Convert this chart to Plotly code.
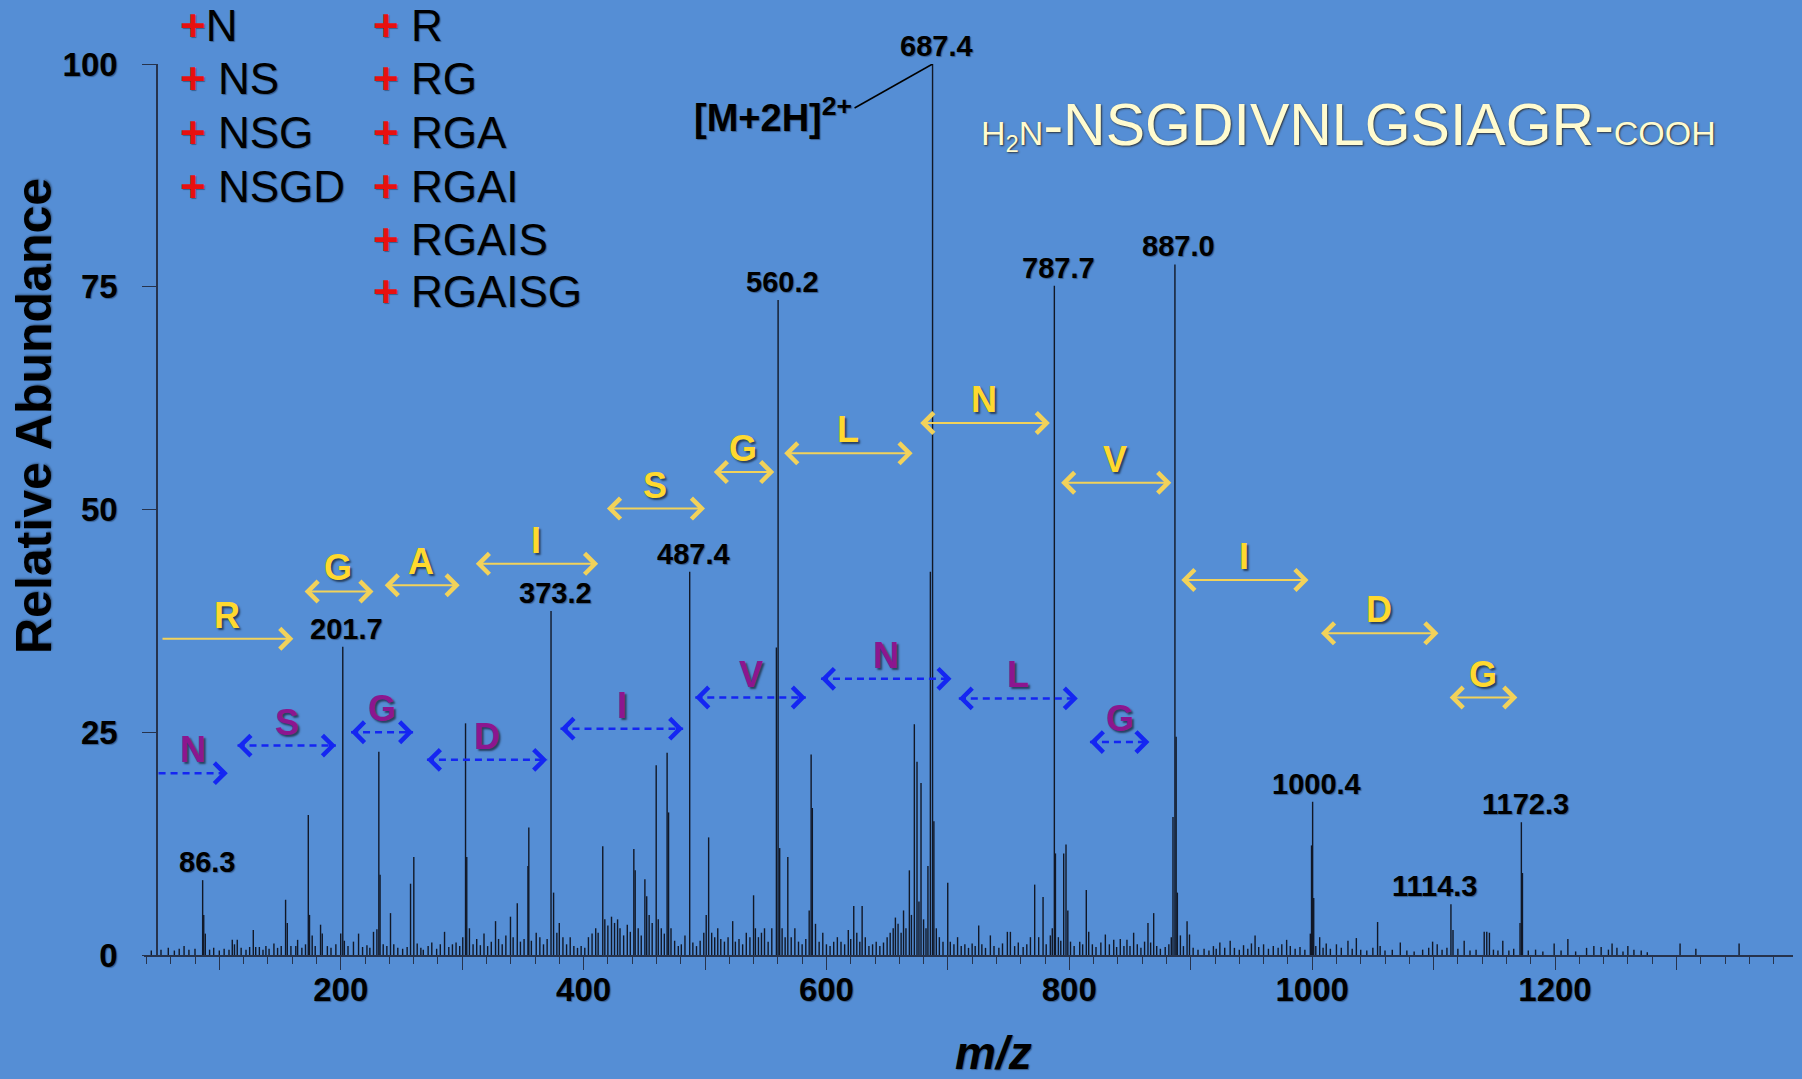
import plotly.graph_objects as go

# ---------------- data ----------------
mz_values = [
    44, 52, 58, 63, 67, 71, 75, 80, 86.3, 87.2, 88.5, 92, 95.4, 100, 104, 108, 110.7, 112.5, 114.8, 118,
    122, 125, 128, 130, 133, 136, 138.4, 141, 145, 148, 151, 154.6, 156, 159, 163, 164.5, 168, 171, 173.3, 174.3,
    176.5, 179, 183.4, 184.8, 189, 192, 196, 200, 201.7, 203, 206, 210.5, 214.7, 218, 221.6, 224, 227, 229.8, 231.4, 232.4,
    235, 238, 241, 243.7, 247, 251, 254.7, 257.5, 260.2, 263, 266, 268, 272, 275, 279, 282, 285.5, 289, 292, 295,
    298, 300.5, 302.8, 303.8, 306, 309, 312, 315, 318, 321, 324, 327.5, 330, 333, 336, 339.8, 342, 345.4, 348, 351,
    354.2, 354.9, 357, 361, 364, 367, 370, 373.2, 375.3, 378, 380, 383, 386, 389, 392, 395, 398, 401, 404, 407,
    410, 412, 415.8, 417.5, 420, 423, 425.5, 428, 430, 433, 436, 438.5, 441.4, 442.5, 445, 447.5, 450.5, 452, 454, 456.5,
    459.8, 461.5, 464, 466.5, 468.8, 470, 472, 475, 478, 480.5, 483.5, 487.4, 490, 493, 496, 499, 501, 503, 505.5, 508,
    510.5, 513, 516, 519, 522.8, 525, 528, 531, 534, 537, 540, 541.5, 544, 546.5, 549, 552, 555, 558.8, 560.2, 561.5,
    563.5, 566, 568.2, 571, 574, 577, 580, 583, 585.8, 587.4, 588.4, 591, 594, 597, 600, 603, 606, 609, 612, 615,
    618, 620, 622.5, 625, 627.5, 629.4, 632, 635, 638, 641, 644, 647, 650, 652.5, 655, 656.8, 659, 661.5, 663.5, 665.5,
    668.3, 670, 672.4, 674.6, 676.2, 677.9, 680, 682, 683.6, 685.6, 687.4, 688.5, 690.5, 693, 696, 699.9, 702, 705, 708, 711,
    714, 717, 720, 722.5, 725.4, 728, 731, 735, 738, 742, 745, 749, 751.5, 755, 758, 762, 765, 768, 771.5, 774.8,
    778.4, 781, 784.4, 786, 787.7, 788.6, 791, 793, 795.4, 797.3, 798.8, 801, 804, 808.6, 811, 814, 816, 819, 822, 826,
    829.7, 833, 836.6, 839, 842, 845, 847.5, 850, 853, 856, 859, 862, 864.8, 867, 869.5, 872, 875, 879, 882, 884,
    885.4, 887.0, 888.0, 889, 891.5, 894, 897, 899, 902, 906, 911, 915, 918.7, 921, 924, 928, 932.5, 936, 940, 943.5,
    947, 950, 953, 956, 960, 964, 968, 972, 975, 979, 982, 986, 990, 994, 998.5, 999.5, 1000.4, 1001.3, 1003, 1006.2,
    1009, 1011.6, 1015, 1020, 1024, 1029.5, 1033, 1036.4, 1040, 1045, 1050, 1053.9, 1056, 1060, 1066, 1072.6, 1078, 1084, 1091, 1096,
    1099.2, 1103, 1107, 1111, 1114.3, 1116, 1120, 1125.2, 1130, 1135, 1141.7, 1143.8, 1146, 1149.3, 1153, 1157, 1162, 1166, 1171.2, 1172.3,
    1173.2, 1178, 1184, 1190, 1199.3, 1205, 1210.6, 1217, 1226, 1232, 1238, 1244, 1247, 1251, 1256, 1260, 1265, 1271, 1276, 1303,
    1316, 1351.6,
]
abundance = [
    0.5, 0.6, 0.8, 0.5, 0.7, 1.0, 0.6, 0.7, 8.4, 4.5, 2.4, 0.6, 0.8, 0.5, 0.7, 0.6, 1.7, 1.2, 1.7, 0.8,
    0.6, 0.9, 2.8, 0.9, 0.9, 0.6, 1.0, 0.7, 1.3, 0.8, 1.0, 6.2, 3.6, 1.0, 1.0, 1.7, 0.8, 1.2, 15.7, 4.5,
    2.2, 1.0, 3.4, 2.4, 1.0, 0.8, 1.2, 2.4, 34.6, 1.6, 1.0, 1.5, 2.4, 0.9, 1.1, 0.8, 2.6, 2.9, 22.8, 9.0,
    1.2, 1.0, 4.7, 1.2, 0.8, 0.7, 0.9, 8.0, 11.0, 1.3, 0.8, 0.6, 1.0, 1.4, 0.7, 1.2, 2.6, 0.9, 1.2, 1.4,
    1.0, 2.0, 26.0, 11.0, 3.0, 1.2, 1.8, 1.1, 2.4, 1.0, 1.5, 3.8, 1.8, 1.2, 2.2, 4.3, 2.0, 5.8, 1.5, 1.8,
    10.0, 14.3, 1.6, 2.5, 2.0, 1.2, 1.8, 38.6, 7.0, 2.5, 3.6, 2.0, 1.2, 2.0, 1.0, 0.8, 1.0, 0.8, 2.0, 2.4,
    3.0, 2.5, 12.2, 4.0, 3.3, 4.3, 3.6, 4.0, 3.0, 2.2, 3.4, 2.6, 11.9, 9.5, 3.0, 2.2, 8.5, 6.6, 4.5, 3.6,
    21.3, 4.0, 3.0, 2.4, 22.7, 16.0, 3.0, 1.6, 1.0, 1.2, 2.2, 43.0, 1.4, 1.0, 1.6, 2.5, 4.5, 13.2, 2.5, 2.0,
    3.0, 1.8, 1.5, 2.0, 3.8, 1.5, 1.8, 1.2, 2.5, 2.0, 6.7, 3.0, 2.0, 2.5, 3.0, 1.5, 3.0, 34.5, 73.5, 12.0,
    3.0, 2.0, 11.0, 2.0, 3.0, 1.5, 1.2, 1.8, 5.0, 22.5, 16.5, 3.5, 1.5, 2.5, 1.2, 1.0, 1.5, 2.0, 1.5, 1.2,
    2.8, 1.8, 5.5, 2.5, 1.5, 5.5, 2.0, 1.0, 1.2, 1.5, 1.0, 1.4, 2.0, 2.5, 3.0, 4.2, 3.5, 2.5, 5.0, 3.0,
    9.5, 4.5, 25.9, 21.7, 6.0, 19.3, 4.0, 3.0, 10.0, 43.0, 100.0, 15.0, 3.0, 2.0, 1.5, 8.1, 1.5, 1.2, 2.0, 1.0,
    1.2, 0.8, 1.3, 1.0, 3.3, 1.2, 0.8, 2.2, 1.0, 0.8, 1.3, 2.6, 2.6, 1.0, 1.4, 0.9, 1.2, 2.0, 7.9, 2.0,
    6.5, 1.2, 2.2, 3.0, 75.1, 11.4, 2.0, 1.6, 11.4, 12.4, 5.0, 1.5, 1.0, 1.5, 1.2, 7.3, 2.6, 1.2, 0.9, 1.4,
    2.3, 1.2, 1.7, 0.9, 1.8, 1.0, 1.7, 1.0, 2.5, 1.2, 0.8, 1.5, 3.6, 1.4, 4.7, 1.0, 0.7, 0.9, 1.2, 2.0,
    15.5, 77.5, 24.5, 7.0, 2.2, 1.0, 3.8, 2.3, 0.8, 0.6, 0.7, 0.5, 1.0, 0.7, 1.4, 0.8, 1.6, 0.8, 0.6, 1.1,
    0.7, 1.3, 2.2, 0.9, 1.2, 0.7, 1.0, 0.8, 1.2, 1.7, 1.0, 0.7, 0.9, 0.6, 2.4, 12.3, 17.2, 6.4, 1.0, 2.0,
    0.8, 1.3, 0.7, 1.2, 0.8, 1.6, 0.7, 1.9, 0.6, 0.5, 0.8, 3.7, 1.0, 0.5, 0.6, 1.4, 0.5, 0.4, 0.6, 0.8,
    1.5, 1.2, 0.6, 0.8, 5.7, 2.8, 0.7, 1.6, 0.5, 0.6, 2.6, 2.6, 2.5, 0.6, 0.5, 1.6, 0.5, 0.7, 3.6, 14.9,
    9.2, 0.5, 0.6, 0.4, 1.3, 0.5, 1.8, 0.4, 0.8, 1.0, 0.9, 0.6, 1.3, 0.8, 0.4, 1.0, 0.6, 0.5, 0.3, 1.3,
    0.7, 1.3,
]

# labelled peaks
labeled_mz = [86.3, 201.7, 373.2, 487.4, 560.2, 687.4, 787.7, 887.0, 1000.4, 1114.3, 1172.3]
labeled_abundance = [8.4, 34.6, 38.6, 43.0, 73.5, 100.0, 75.1, 77.5, 17.2, 5.7, 14.9]

# precursor ion
precursor_mz = 687.4
precursor_abundance = 100.0
precursor_label = "[M+2H]<sup>2+</sup>"

# y-ion ladder (yellow, solid arrows)
y_ion_residues = ["R", "G", "A", "I", "S", "G", "L", "N", "V", "I", "D", "G"]
y_ion_from = [52, 169, 235, 310, 418, 506, 564, 676, 792, 891, 1006, 1112]
y_ion_to = [161, 227, 298, 412, 500, 557, 671, 784, 884, 997, 1104, 1169]
y_ion_level = [35.5, 40.8, 41.5, 43.9, 50.1, 54.2, 56.3, 59.7, 53.0, 42.1, 36.1, 28.9]

# b-ion ladder (blue, dashed arrows)
b_ion_residues = ["N", "S", "G", "D", "I", "V", "N", "L", "G"]
b_ion_from = [50, 115, 208.5, 271, 381, 492, 595.5, 709, 817]
b_ion_to = [107, 196, 259.6, 370, 482, 583, 703, 807, 866]
b_ion_level = [20.4, 23.5, 25.0, 21.9, 25.4, 28.9, 31.0, 28.8, 23.9]

n_term_fragments = ["N", "NS", "NSG", "NSGD"]
c_term_fragments = ["R", "RG", "RGA", "RGAI", "RGAIS", "RGAISG"]

x_tick_values = [100, 200, 300, 400, 500, 600, 700, 800, 900, 1000, 1100, 1200, 1300]
x_tick_labels = ["", "200", "", "400", "", "600", "", "800", "", "1000", "", "1200", ""]
y_tick_values = [0, 25, 50, 75, 100]
y_tick_labels = ["0", "25", "50", "75", "100"]

# ---------------- geometry & style ----------------
W, H = 1802, 1079
ML, MR, MT, MB = 144, 9, 64, 124
PW, PH = W - ML - MR, H - MT - MB
BG = "#558ED5"
INK = "#111827"
AXIS = "#26334d"
YEL_ARROW = "#F2D25A"
YEL_TEXT = "#FFD92E"
BLUE = "#1426F2"
PURPLE = "#8C168F"
FONT = "Liberation Sans, Arial, sans-serif"
SHADOW = "2px 2px 2px rgba(0,0,0,0.55)"
TSHADOW = "1px 1px 1px rgba(0,0,0,0.35)"


def fx(X):
    return (X - ML) / PW


def fy(Y):
    return (H - MB - Y) / PH


# stick spectrum
xs, ys = [], []
for m, a in zip(mz_values, abundance):
    xs += [m, m, None]
    ys += [0, a, None]

fig = go.Figure()
fig.add_trace(go.Scatter(x=xs, y=ys, mode="lines",
                         line=dict(color=INK, width=1.4),
                         hoverinfo="skip", showlegend=False, cliponaxis=False))

ann = []
shapes = []

# peak labels
label_xshift = {1114.3: -16}
for m, a in zip(labeled_mz, labeled_abundance):
    ann.append(dict(x=m, y=a, xref="x", yref="y", text=f"{m:.1f}", showarrow=False,
                    xanchor="center", yanchor="bottom", yshift=0, xshift=label_xshift.get(m, 4),
                    font=dict(family=FONT, size=29, color="black", weight="bold", shadow=TSHADOW)))

# [M+2H]2+ label with leader line to the precursor peak
ann.append(dict(x=precursor_mz, y=precursor_abundance, xref="x", yref="y", text=precursor_label,
                showarrow=False, xshift=-160, yshift=-51,
                font=dict(family=FONT, size=38, color="black", weight="bold", shadow=TSHADOW)))
shapes.append(dict(type="line", xref="x", yref="y",
                   xsizemode="pixel", xanchor=precursor_mz, x0=-78, x1=0,
                   ysizemode="pixel", yanchor=precursor_abundance, y0=-44, y1=0,
                   line=dict(color="black", width=1.6)))

# y-ion ladder
for i, (r, a0, a1, lv) in enumerate(zip(y_ion_residues, y_ion_from, y_ion_to, y_ion_level)):
    ann.append(dict(x=a1, y=lv, ax=a0, ay=lv, xref="x", yref="y", axref="x", ayref="y",
                    text="", showarrow=True, arrowcolor=YEL_ARROW, arrowwidth=2,
                    arrowhead=4, arrowsize=2.0, startarrowhead=4, startarrowsize=2.0,
                    arrowside="end" if i == 0 else "end+start"))
    ann.append(dict(x=(a0 + a1) / 2, y=lv, xref="x", yref="y", text=r, showarrow=False,
                    yanchor="bottom", yshift=1,
                    font=dict(family=FONT, size=36, color=YEL_TEXT, weight="bold", shadow=SHADOW)))

# b-ion ladder
for i, (r, a0, a1, lv) in enumerate(zip(b_ion_residues, b_ion_from, b_ion_to, b_ion_level)):
    shapes.append(dict(type="line", xref="x", yref="y", x0=a0, x1=a1, y0=lv, y1=lv,
                       line=dict(color=BLUE, width=2.5, dash="7px,5px")))
    ann.append(dict(x=a1, y=lv, xref="x", yref="y", ax=-8, ay=0, text="", showarrow=True,
                    arrowcolor=BLUE, arrowwidth=2.2, arrowhead=4, arrowsize=1.8))
    if i > 0:
        ann.append(dict(x=a0, y=lv, xref="x", yref="y", ax=8, ay=0, text="", showarrow=True,
                        arrowcolor=BLUE, arrowwidth=2.2, arrowhead=4, arrowsize=1.8))
    ann.append(dict(x=(a0 + a1) / 2, y=lv, xref="x", yref="y", text=r, showarrow=False,
                    yanchor="bottom", yshift=1,
                    font=dict(family=FONT, size=36, color=PURPLE, weight="bold", shadow=SHADOW)))

# fragment lists (top-left)
plus = "<span style='color:#E8100F'><b>+</b></span>"
row_y = [26, 78, 132, 186, 239, 292]
for k, frag in enumerate(n_term_fragments):
    sep = "" if k == 0 else " "
    ann.append(dict(x=fx(178), y=fy(row_y[k]), xref="paper", yref="paper", text=plus + sep + frag,
                    showarrow=False, xanchor="left", yanchor="middle",
                    font=dict(family=FONT, size=44, color="black", shadow=TSHADOW)))
for k, frag in enumerate(c_term_fragments):
    ann.append(dict(x=fx(371), y=fy(row_y[k]), xref="paper", yref="paper", text=plus + " " + frag,
                    showarrow=False, xanchor="left", yanchor="middle",
                    font=dict(family=FONT, size=44, color="black", shadow=TSHADOW)))

# peptide sequence
ann.append(dict(x=fx(979), y=fy(125), xref="paper", yref="paper", showarrow=False,
                xanchor="left", yanchor="middle",
                text="<span style='font-size:34px'>H<sub>2</sub>N</span>-NSGDIVNLGSIAGR-"
                     "<span style='font-size:34px'>COOH</span>",
                font=dict(family=FONT, size=59, color="#FFFBCF", shadow="1px 1px 2px rgba(40,40,40,0.9)")))

# axis titles
ann.append(dict(x=fx(34), y=fy(416), xref="paper", yref="paper", text="Relative Abundance",
                textangle=-90, showarrow=False, xanchor="center", yanchor="middle",
                font=dict(family=FONT, size=50, color="black", weight="bold",
                          shadow="1px 1px 2px rgba(0,0,0,0.4)")))
ann.append(dict(x=fx(994), y=fy(1053), xref="paper", yref="paper", text="m/z",
                showarrow=False, xanchor="center", yanchor="middle",
                font=dict(family=FONT, size=46, color="black", weight="bold", style="italic",
                          shadow=TSHADOW)))

fig.update_layout(
    width=W, height=H,
    margin=dict(l=ML, r=MR, t=MT, b=MB, pad=0),
    paper_bgcolor=BG, plot_bgcolor=BG,
    showlegend=False, hovermode=False,
    annotations=ann, shapes=shapes,
    xaxis=dict(range=[38, 1396], showgrid=False, zeroline=False,
               showline=True, linecolor=AXIS, linewidth=1.6,
               tickmode="array", tickvals=x_tick_values, ticktext=x_tick_labels,
               ticks="outside", ticklen=13, tickwidth=1.4, tickcolor=AXIS,
               ticklabelstandoff=-8,
               tickfont=dict(family=FONT, size=33, color="black", weight="bold", shadow=TSHADOW),
               minor=dict(dtick=20, tick0=0, ticks="outside", ticklen=7, tickwidth=1.2,
                          tickcolor=AXIS, showgrid=False)),
    yaxis=dict(range=[0, 100], showgrid=False, zeroline=False,
               anchor="free", position=(157 - ML) / PW,
               showline=True, linecolor=AXIS, linewidth=1.6,
               tickmode="array", tickvals=y_tick_values, ticktext=y_tick_labels,
               ticks="outside", ticklen=14, tickwidth=1.4, tickcolor=AXIS,
               ticklabelstandoff=18,
               tickfont=dict(family=FONT, size=33, color="black", weight="bold", shadow=TSHADOW)),
)

fig.write_html("out.html", config={"displayModeBar": False},
               post_script="document.body.style.margin='0';document.body.style.overflow='hidden';")
